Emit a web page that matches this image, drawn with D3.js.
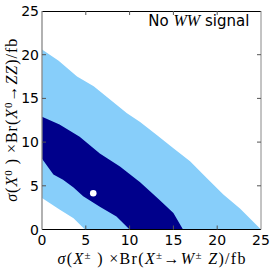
<!DOCTYPE html>
<html>
<head>
<meta charset="utf-8">
<script src="https://cdn.jsdelivr.net/npm/d3@7"></script>
<style>
  body { margin: 0; background: #fff; }
  svg text { font-family: "DejaVu Sans", sans-serif; }
  .math { font-family: "Liberation Serif", "DejaVu Serif", serif; }
</style>
</head>
<body>
<svg id="chart" width="274" height="273"></svg>
<script>
// contour boundaries, [x, y] in fb
const outerUpper = [[0, 20.6], [1.9, 19.3], [4.0, 17.5], [5.9, 16.4], [7.8, 14.85], [9.7, 13.3],
  [11.2, 12.3], [13.1, 10.8], [15.0, 9.3], [16.9, 7.8], [18.8, 5.9], [20.7, 4.0], [22.6, 2.4], [25, 0]];
const outerLower = [[0, 3.6], [2.0, 2.3], [3.6, 1.3], [4.9, 0]];
const innerUpper = [[0, 12.9], [2.0, 12.0], [4.3, 10.6], [6.6, 8.7], [8.9, 7.2], [11.2, 5.4],
  [13.3, 3.5], [15.0, 1.9], [16.1, 0]];
const innerLower = [[0, 8.1], [1.3, 6.3], [2.4, 5.7], [3.6, 4.8], [4.7, 3.8], [6.6, 2.6],
  [8.5, 1.5], [10.0, 0]];
const bestFit = [5.85, 4.15];
const xTicks = [0, 5, 10, 15, 20, 25];
const yTicks = [0, 5, 10, 15, 20, 25];

const svg = d3.select('#chart');
const margin = {top: 11, right: 13, bottom: 43.5, left: 42};
const width = 274 - margin.left - margin.right;
const height = 273 - margin.top - margin.bottom;

const x = d3.scaleLinear().domain([0, 25]).range([0, width]);
const y = d3.scaleLinear().domain([0, 25]).range([height, 0]);

const g = svg.append('g').attr('transform', `translate(${margin.left},${margin.top})`);

g.append('clipPath').attr('id', 'plot-clip')
  .append('rect').attr('width', width).attr('height', height);

const area = g.append('g').attr('clip-path', 'url(#plot-clip)');
const line = d3.line().x(d => x(d[0])).y(d => y(d[1]));

const band = (upper, lower) => [...upper, ...lower.slice().reverse()];

area.append('path')
  .attr('d', line(band(outerUpper, outerLower)) + 'Z')
  .attr('fill', '#87cefa');
area.append('path')
  .attr('d', line(band(innerUpper, innerLower)) + 'Z')
  .attr('fill', '#00008b');
area.append('circle')
  .attr('cx', x(bestFit[0])).attr('cy', y(bestFit[1]))
  .attr('r', 3.3).attr('fill', '#fff');

// spines
g.append('line').attr('x1', 0).attr('x2', width).attr('y1', 0.5).attr('y2', 0.5).attr('stroke', '#000');
g.append('line').attr('x1', 0).attr('x2', width).attr('y1', height).attr('y2', height).attr('stroke', '#000');
g.append('line').attr('x1', 0).attr('x2', 0).attr('y1', 0).attr('y2', height).attr('stroke', '#888').attr('stroke-width', 1.3);
g.append('line').attr('x1', width).attr('x2', width).attr('y1', 0).attr('y2', height).attr('stroke', '#888');

// inward ticks on all sides
const tickLen = 4;
g.append('g').selectAll('line').data(xTicks.slice(1, -1)).join('line')
  .attr('x1', d => x(d)).attr('x2', d => x(d)).attr('y1', 0).attr('y2', tickLen).attr('stroke', '#555');
g.append('g').selectAll('line').data(xTicks.slice(1, -1)).join('line')
  .attr('x1', d => x(d)).attr('x2', d => x(d)).attr('y1', height).attr('y2', height - tickLen).attr('stroke', '#555');
g.append('g').selectAll('line').data(yTicks.slice(1, -1)).join('line')
  .attr('y1', d => y(d)).attr('y2', d => y(d)).attr('x1', width).attr('x2', width - tickLen).attr('stroke', '#555');
g.append('g').selectAll('line').data(yTicks.slice(1, -1)).join('line')
  .attr('y1', d => y(d)).attr('y2', d => y(d)).attr('x1', 0).attr('x2', tickLen).attr('stroke', '#555');

// tick labels
g.append('g').selectAll('text').data(xTicks).join('text')
  .attr('x', d => x(d)).attr('y', height + 15.5)
  .attr('text-anchor', 'middle').attr('font-size', 14).text(d => d);
g.append('g').selectAll('text').data(yTicks).join('text')
  .attr('x', -3).attr('y', d => y(d) + 5)
  .attr('text-anchor', 'end').attr('font-size', 14).text(d => d);

// annotation
const note = g.append('text').attr('x', width - 11.7).attr('y', 15)
  .attr('text-anchor', 'end').attr('font-size', 15);
note.append('tspan').text('No ');
note.append('tspan').attr('class', 'math').attr('font-style', 'italic').attr('font-size', 16).text('WW');
note.append('tspan').text(' signal');

// axis labels (mathtext-ish); sup: superscript, back: return to baseline
const mathLabel = (sel, parts) => {
  parts.forEach(p => {
    const t = sel.append('tspan').text(p.t);
    if (p.i) t.attr('font-style', 'italic');
    if (p.sup) t.attr('font-size', 11).attr('dy', -5.5);
    if (p.back) t.attr('dy', 5.5);
  });
};

const xl = svg.append('text').attr('class', 'math')
  .attr('x', margin.left + width / 2).attr('y', 264)
  .attr('text-anchor', 'middle').attr('font-size', 16)
  .attr('textLength', 188).attr('lengthAdjust', 'spacing');
mathLabel(xl, [
  {t: 'σ', i: 1}, {t: '('}, {t: 'X', i: 1}, {t: '±', sup: 1}, {t: ' ) ×Br(', back: 1},
  {t: 'X', i: 1}, {t: '±', sup: 1}, {t: '→', back: 1}, {t: 'W', i: 1}, {t: '±', sup: 1},
  {t: ' ', back: 1}, {t: 'Z', i: 1}, {t: ')/fb'}
]);

const yl = svg.append('text').attr('class', 'math')
  .attr('transform', `translate(17,${margin.top + height / 2}) rotate(-90)`)
  .attr('text-anchor', 'middle').attr('font-size', 16)
  .attr('textLength', 163).attr('lengthAdjust', 'spacing');
mathLabel(yl, [
  {t: 'σ', i: 1}, {t: '('}, {t: 'X', i: 1}, {t: '0', sup: 1}, {t: ' ) ×Br(', back: 1},
  {t: 'X', i: 1}, {t: '0', sup: 1}, {t: '→', back: 1}, {t: 'ZZ', i: 1}, {t: ')/fb'}
]);
</script>
</body>
</html>
